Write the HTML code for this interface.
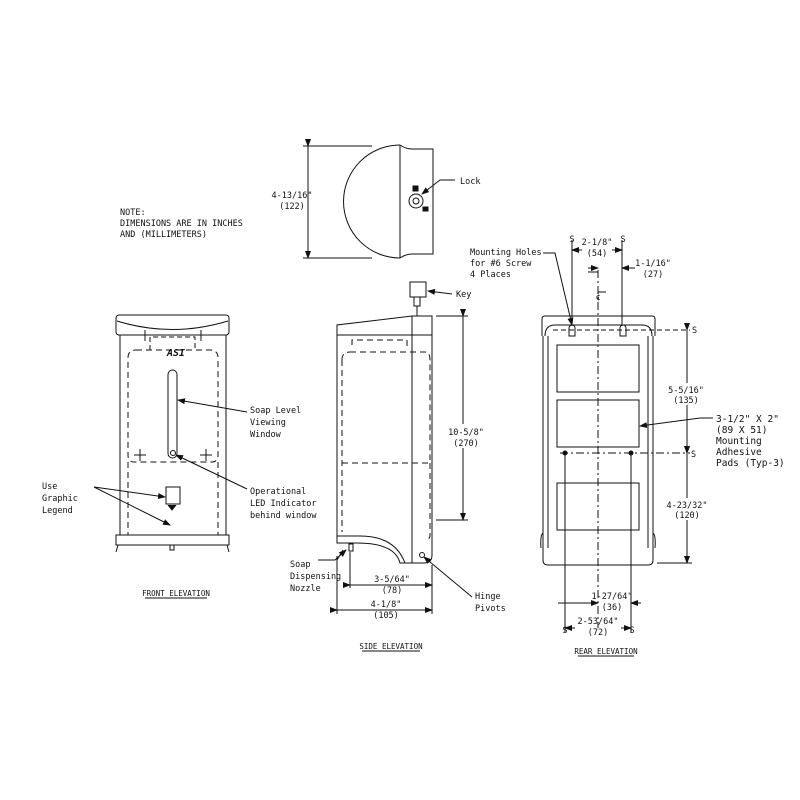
<!DOCTYPE html>
<html><head><meta charset="utf-8"><style>
html,body{margin:0;padding:0;background:#fff;}
svg{display:block;}
text{font-family:"DejaVu Sans Mono","Liberation Mono",monospace;font-size:8.5px;fill:#111;}
.c{text-anchor:middle;}
</style></head><body>
<svg width="800" height="800" viewBox="0 0 800 800" xmlns="http://www.w3.org/2000/svg">
<defs>
<marker id="a" markerWidth="8" markerHeight="6" refX="7" refY="3" orient="auto" markerUnits="userSpaceOnUse"><path d="M0,0 L8,3 L0,6 z" fill="#111"/></marker>
</defs>
<g fill="none" stroke="#111" stroke-width="1">
<!-- TOP VIEW -->
<path d="M400,145 A56,56 0 0 0 400,258"/>
<line x1="400" y1="145" x2="400" y2="258"/>
<path d="M400,145 Q406,149 412,149 L433,149 L433,254 L412,254 Q406,254 400,258"/>
<line x1="308" y1="146" x2="308" y2="258" marker-start="url(#a)" marker-end="url(#a)"/>
<line x1="303" y1="146" x2="372" y2="146"/>
<line x1="303" y1="258" x2="372" y2="258"/>
<circle cx="416" cy="201" r="7"/><circle cx="416" cy="201" r="3"/>
<rect x="413" y="186" width="5" height="5" fill="#111"/>
<rect x="423" y="207" width="5" height="4" fill="#111"/>
<polyline points="455,180 440,180 422,194" marker-end="url(#a)"/>
<!-- FRONT -->
<rect x="116" y="315" width="113" height="20" rx="3"/>
<path d="M117,321 Q172,338 228,321"/>
<rect x="120" y="335" width="106" height="200"/>
<rect x="116" y="535" width="113" height="10"/>
<path d="M118,545 L116,552 M227,545 L229,552"/>
<rect x="170" y="545" width="4" height="5"/>
<path d="M150,350 V337 H195 V350" stroke-dasharray="5,3"/>
<path d="M136,350 H210 Q218,350 218,358 V455 Q218,462 212,462 H134 Q128,462 128,455 V358 Q128,350 136,350 Z" stroke-dasharray="6,4"/>
<path d="M128,462 V535 M218,462 V535" stroke-dasharray="6,4"/>
<rect x="168" y="370" width="9" height="88" rx="4.5"/>
<circle cx="173" cy="453" r="2.5"/>
<path d="M134,455 H146 M140,449 V461 M200,455 H212 M206,449 V461"/>
<path d="M145,341 V330 M201,341 V330"/>
<rect x="166" y="487" width="14" height="17"/>
<path d="M168,505 L172,510 L176,505" fill="#111"/>
<line x1="247" y1="412" x2="178" y2="400" marker-end="url(#a)"/>
<line x1="247" y1="489" x2="176" y2="455" marker-end="url(#a)"/>
<line x1="94" y1="487" x2="165" y2="497" marker-end="url(#a)"/>
<line x1="94" y1="487" x2="170" y2="525" marker-end="url(#a)"/>
<line x1="145" y1="598" x2="207" y2="598"/>
<!-- SIDE -->
<path d="M337,335 V325 L412,316 H432 V335"/>
<line x1="337" y1="335" x2="432" y2="335"/>
<line x1="412" y1="316" x2="412" y2="563"/>
<path d="M337,335 V536 M432,335 V555 Q432,563 424,563 H410"/>
<path d="M337,536 H360 Q395,536 405,563 M337,536 V543 H357 Q395,543 400,563 H410"/>
<path d="M352,345 V340 H407 V350" stroke-dasharray="6,4"/>
<path d="M350,352 H425 Q430,352 430,360 V460 M342,360 Q342,352 350,352 M342,360 V532 M342,463 H430 M430,463 V535 Q430,540 425,540" stroke-dasharray="6,4"/>
<circle cx="422" cy="555" r="2.5"/>
<rect x="349" y="544" width="4" height="7"/>
<path d="M343,550 L337,560"/>
<line x1="350" y1="552" x2="350" y2="588"/>
<line x1="432" y1="565" x2="432" y2="614"/>
<line x1="337" y1="556" x2="337" y2="614"/>
<line x1="350" y1="585" x2="432" y2="585" marker-start="url(#a)" marker-end="url(#a)"/>
<line x1="337" y1="610" x2="432" y2="610" marker-start="url(#a)" marker-end="url(#a)"/>
<path d="M318,560 L335,560 L346,550" marker-end="url(#a)"/>
<line x1="472" y1="597" x2="424" y2="557" marker-end="url(#a)"/>
<line x1="436" y1="316" x2="468" y2="316"/>
<line x1="436" y1="520" x2="468" y2="520"/>
<line x1="463" y1="316" x2="463" y2="424" marker-start="url(#a)"/>
<line x1="463" y1="448" x2="463" y2="520" marker-end="url(#a)"/>
<rect x="410" y="282" width="16" height="15"/>
<rect x="414" y="297" width="6" height="9"/>
<line x1="417" y1="306" x2="417" y2="316"/>
<line x1="452" y1="294" x2="428" y2="291" marker-end="url(#a)"/>
<line x1="362" y1="651" x2="420" y2="651"/>
<!-- REAR -->
<path d="M542,336 V319 Q542,316 545,316 H652 Q655,316 655,319 V336"/>
<path d="M545,336 Q545,325 555,325 H642 Q652,325 652,336"/>
<path d="M543,336 V560 Q543,565 548,565 H648 Q653,565 653,560 V336"/>
<path d="M548,336 V548 M648,336 V548"/>
<path d="M543,533 Q540,535 541,548 M653,533 Q656,535 655,548"/>
<path d="M569,336 V328 A3,3 0 0 1 575,328 V336 Z M620,336 V328 A3,3 0 0 1 626,328 V336 Z"/>
<rect x="557" y="345" width="82" height="47"/>
<rect x="557" y="400" width="82" height="47"/>
<rect x="557" y="483" width="82" height="47"/>
<line x1="553" y1="330" x2="690" y2="330" stroke-dasharray="5,3"/>
<line x1="560" y1="453" x2="690" y2="453" stroke-dasharray="8,3,2,3"/>
<circle cx="565" cy="453" r="2" fill="#111"/><circle cx="631" cy="453" r="2" fill="#111"/>
<line x1="598" y1="270" x2="598" y2="628" stroke-dasharray="8,3,2,3"/>
<path d="M588,272 H598 M598,292 H606"/>
<line x1="572" y1="240" x2="572" y2="326"/>
<line x1="622" y1="240" x2="622" y2="326"/>
<line x1="565" y1="453" x2="565" y2="632"/>
<line x1="631" y1="453" x2="631" y2="632"/>
<line x1="582" y1="250" x2="572" y2="250" marker-end="url(#a)"/>
<line x1="612" y1="250" x2="622" y2="250" marker-end="url(#a)"/>
<line x1="588" y1="268" x2="598" y2="268" marker-end="url(#a)"/>
<line x1="635" y1="268" x2="622" y2="268" marker-end="url(#a)"/>
<line x1="558" y1="603" x2="598" y2="603" marker-end="url(#a)"/>
<line x1="641" y1="603" x2="631" y2="603" marker-end="url(#a)"/>
<line x1="575" y1="628" x2="565" y2="628" marker-end="url(#a)"/>
<line x1="621" y1="628" x2="631" y2="628" marker-end="url(#a)"/>
<line x1="657" y1="563" x2="692" y2="563"/>
<line x1="687" y1="330" x2="687" y2="383" marker-start="url(#a)"/>
<line x1="687" y1="405" x2="687" y2="453" marker-end="url(#a)"/>
<line x1="687" y1="453" x2="687" y2="498" marker-start="url(#a)"/>
<line x1="687" y1="520" x2="687" y2="563" marker-end="url(#a)"/>
<polyline points="543,253 555,253 572,325" marker-end="url(#a)"/>
<polyline points="713,418 700,418 640,426" marker-end="url(#a)"/>
<line x1="578" y1="656" x2="634" y2="656"/>
</g>
<g>
<text x="120" y="215">NOTE:</text>
<text x="120" y="226">DIMENSIONS ARE IN INCHES</text>
<text x="120" y="237">AND (MILLIMETERS)</text>
<text x="292" y="198" class="c">4-13/16"</text>
<text x="292" y="209" class="c">(122)</text>
<text x="460" y="184">Lock</text>
<text x="456" y="297">Key</text>
<text x="470" y="255">Mounting Holes</text>
<text x="470" y="266">for #6 Screw</text>
<text x="470" y="277">4 Places</text>
<text x="250" y="413">Soap Level</text>
<text x="250" y="425">Viewing</text>
<text x="250" y="437">Window</text>
<text x="250" y="494">Operational</text>
<text x="250" y="506">LED Indicator</text>
<text x="250" y="518">behind window</text>
<text x="42" y="489">Use</text>
<text x="42" y="501">Graphic</text>
<text x="42" y="513">Legend</text>
<text x="176" y="356" class="c" style="font-weight:bold;font-style:italic;font-size:10px">ASI</text>
<text x="176" y="596" class="c" style="font-size:7.5px">FRONT ELEVATION</text>
<text x="466" y="435" class="c">10-5/8"</text>
<text x="466" y="446" class="c">(270)</text>
<text x="290" y="567">Soap</text>
<text x="290" y="579">Dispensing</text>
<text x="290" y="591">Nozzle</text>
<text x="392" y="582" class="c">3-5/64"</text>
<text x="392" y="593" class="c">(78)</text>
<text x="386" y="607" class="c">4-1/8"</text>
<text x="386" y="618" class="c">(105)</text>
<text x="475" y="599">Hinge</text>
<text x="475" y="611">Pivots</text>
<text x="391" y="649" class="c" style="font-size:7.5px">SIDE ELEVATION</text>
<text x="572" y="242" class="c">S</text>
<text x="623" y="242" class="c">S</text>
<text x="597" y="245" class="c">2-1/8"</text>
<text x="597" y="256" class="c">(54)</text>
<text x="653" y="266" class="c">1-1/16"</text>
<text x="653" y="277" class="c">(27)</text>
<text x="598" y="300" class="c">¢</text>
<text x="692" y="333">S</text>
<text x="691" y="457">S</text>
<text x="686" y="393" class="c">5-5/16"</text>
<text x="686" y="403" class="c">(135)</text>
<text x="687" y="508" class="c">4-23/32"</text>
<text x="687" y="518" class="c">(120)</text>
<text x="716" y="422" style="font-size:9.5px">3-1/2" X 2"</text>
<text x="716" y="433" style="font-size:9.5px">(89 X 51)</text>
<text x="716" y="444" style="font-size:9.5px">Mounting</text>
<text x="716" y="455" style="font-size:9.5px">Adhesive</text>
<text x="716" y="466" style="font-size:9.5px">Pads (Typ-3)</text>
<text x="612" y="599" class="c">1-27/64"</text>
<text x="612" y="610" class="c">(36)</text>
<text x="598" y="624" class="c">2-53/64"</text>
<text x="598" y="635" class="c">(72)</text>
<text x="565" y="633" class="c">S</text>
<text x="632" y="633" class="c">S</text>
<text x="606" y="654" class="c" style="font-size:7.5px">REAR ELEVATION</text>
</g>
</svg>
</body></html>
